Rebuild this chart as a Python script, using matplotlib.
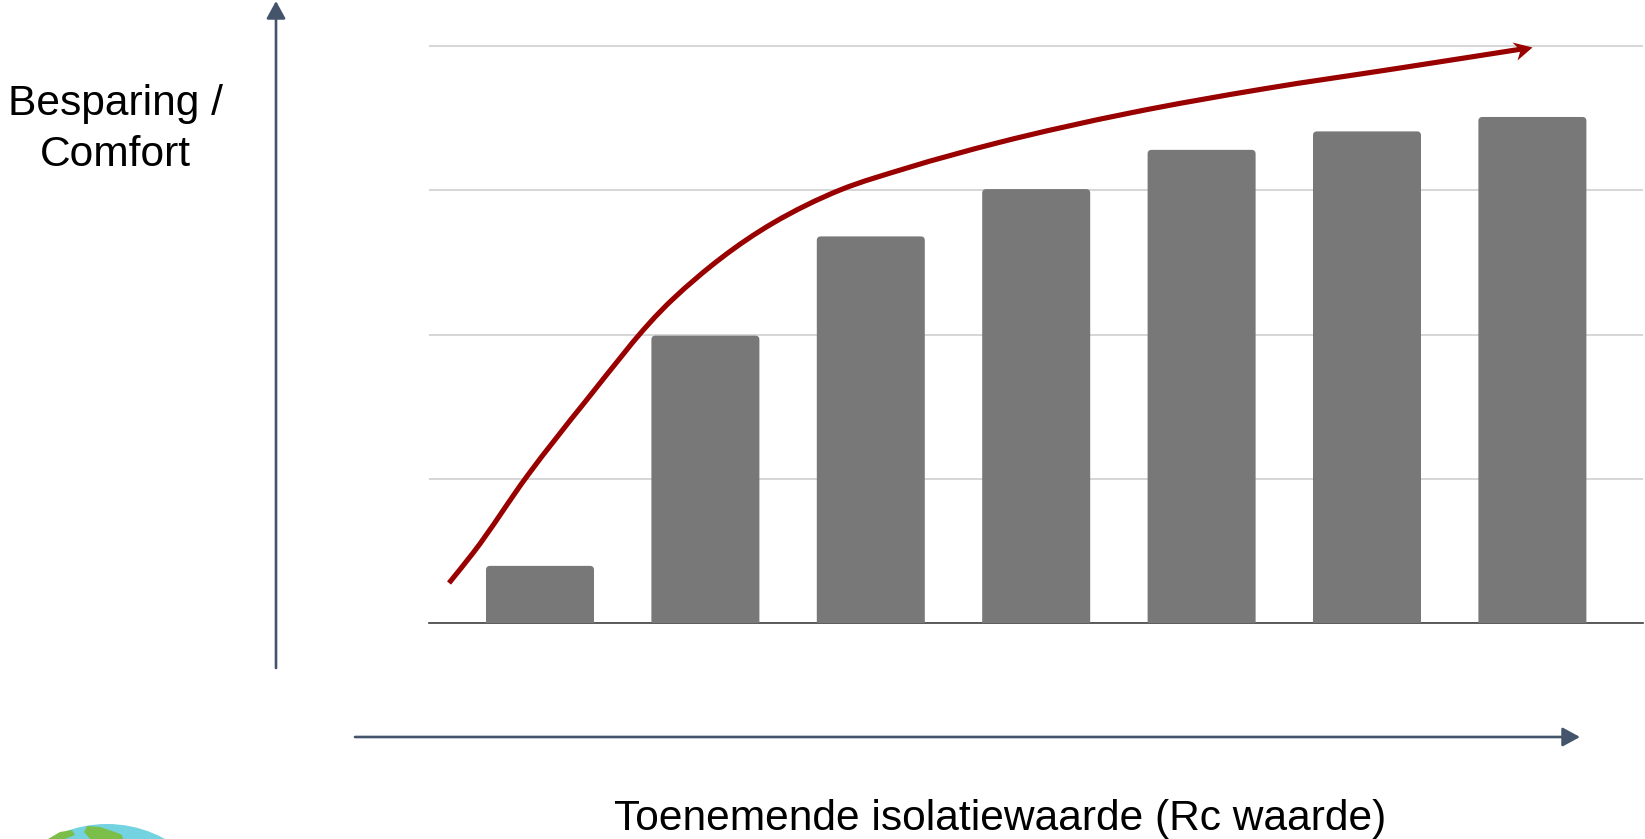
import numpy as np
import matplotlib
matplotlib.use("Agg")
import matplotlib.pyplot as plt
from matplotlib.patches import FancyBboxPatch, Circle, Polygon, PathPatch
from matplotlib.path import Path

# Data
categories = [0, 1, 2, 3, 4, 5, 6]
bar_values = [9.9, 49.8, 67, 75.2, 82, 85.2, 87.7]
curve_x = [-0.550, -0.405, -0.073, 0.272, 0.804, 1.409, 1.814, 2.219, 2.763,
           3.567, 4.371, 5.200, 5.937]
curve_y = [6.93, 12.13, 25.65, 38.30, 56.15, 69.32, 75.04, 78.86, 83.19,
           88.39, 92.55, 96.19, 99.48]
arrow_tip = (5.998, 99.83)
grid_values = [0, 25, 50, 75, 100]
y_label_lines = ["Besparing /", "Comfort"]
x_label = "Toenemende isolatiewaarde (Rc waarde)"

BAR = "#787878"
GRID = "#CBCBCB"
BASE = "#404040"
RED = "#990000"
SLATE = "#44546A"
GLOBE = "#74D3E0"
LAND = "#7BBF4A"
FONT = "Liberation Sans"

W, H = 1645, 839
fig = plt.figure(figsize=(W / 100, H / 100), dpi=100, facecolor="white")

# Chart axes: x = category index, y = value
left_px, right_px, base_px, top_px = 429, 1643, 623, 30
ax = fig.add_axes([left_px / W, 1 - base_px / H, (right_px - left_px) / W, (base_px - top_px) / H])
px_x, px_y = 165.4, 5.77
ax.set_xlim((left_px - 540) / px_x, (right_px - 540) / px_x)
ax.set_ylim(0, (base_px - top_px) / px_y)
ax.set_yticks(grid_values)
ax.set_xticks([])
ax.tick_params(left=False, labelleft=False, bottom=False, labelbottom=False)
ax.grid(axis="y", color=GRID, linewidth=1.1, zorder=0)
ax.set_axisbelow(True)
for s in ("top", "left", "right"):
    ax.spines[s].set_visible(False)
ax.spines["bottom"].set_color(BASE)
ax.spines["bottom"].set_linewidth(1.2)
ax.patch.set_alpha(0)

bar_w = 108 / px_x
radius = 4 / px_x
for c, v in zip(categories, bar_values):
    ax.add_patch(FancyBboxPatch((c - bar_w / 2, -2), bar_w, v + 2,
                                boxstyle=f"round,pad=0,rounding_size={radius}",
                                mutation_aspect=px_x / px_y, fc=BAR, ec="none", zorder=3))


def smooth_path(xs, ys, sx, sy):
    """Cubic Bezier path through the points, with tangents from chord length."""
    p = np.column_stack([xs, ys])
    t = np.r_[0, np.cumsum(np.hypot(np.diff(p[:, 0]) * sx, np.diff(p[:, 1]) * sy))]
    m = np.gradient(p, t, axis=0)
    verts, codes = [p[0]], [Path.MOVETO]
    for i in range(len(p) - 1):
        h = t[i + 1] - t[i]
        verts += [p[i] + m[i] * h / 3, p[i + 1] - m[i + 1] * h / 3, p[i + 1]]
        codes += [Path.CURVE4] * 3
    return Path(np.array(verts), codes)


ax.add_patch(PathPatch(smooth_path(curve_x, curve_y, px_x, px_y), fc="none", ec=RED, lw=3.7,
                       capstyle="butt", zorder=4, clip_on=False))

# Notched arrowhead on the curve end, tip at the origin
head = Path([(0, 0), (-20, 5), (-12, -3), (-15, -13), (0, 0)],
            [Path.MOVETO, Path.LINETO, Path.LINETO, Path.LINETO, Path.CLOSEPOLY])
ax.plot([arrow_tip[0]], [arrow_tip[1]], marker=head, markersize=28.8, color=RED,
        markeredgewidth=0, zorder=5, clip_on=False)

# Overlay in pixel coordinates for the schematic axes, labels and globe
ov = fig.add_axes([0, 0, 1, 1], facecolor="none")
ov.set_xlim(0, W)
ov.set_ylim(H, 0)
ov.axis("off")

arrow = dict(arrowstyle="-|>,head_length=0.66,head_width=0.36", color=SLATE, lw=1.9,
             shrinkA=0, shrinkB=0, mutation_scale=16)
ov.annotate("", xy=(276, 1), xytext=(276, 668), arrowprops=arrow)
ov.annotate("", xy=(1580, 737), xytext=(355, 737), arrowprops=arrow)

ov.text(115, 115, y_label_lines[0], fontsize=30.6, family=FONT, ha="center", va="baseline")
ov.text(115, 166, y_label_lines[1], fontsize=30.6, family=FONT, ha="center", va="baseline")
ov.text(1000, 830, x_label, fontsize=30.6, family=FONT, ha="center", va="baseline")

# Globe, cut off by the lower edge
ov.add_patch(Circle((107, 944), 120, fc=GLOBE, ec="none"))
ov.add_patch(Polygon([(48, 839), (60, 832), (72, 830), (75, 835), (65, 839)], fc=LAND, ec="none"))
ov.add_patch(Polygon([(84, 832), (87, 826), (100, 827), (115, 832), (122, 835), (123, 839), (90, 839)],
                     fc=LAND, ec="none"))

fig.savefig("out.png", dpi=100)
